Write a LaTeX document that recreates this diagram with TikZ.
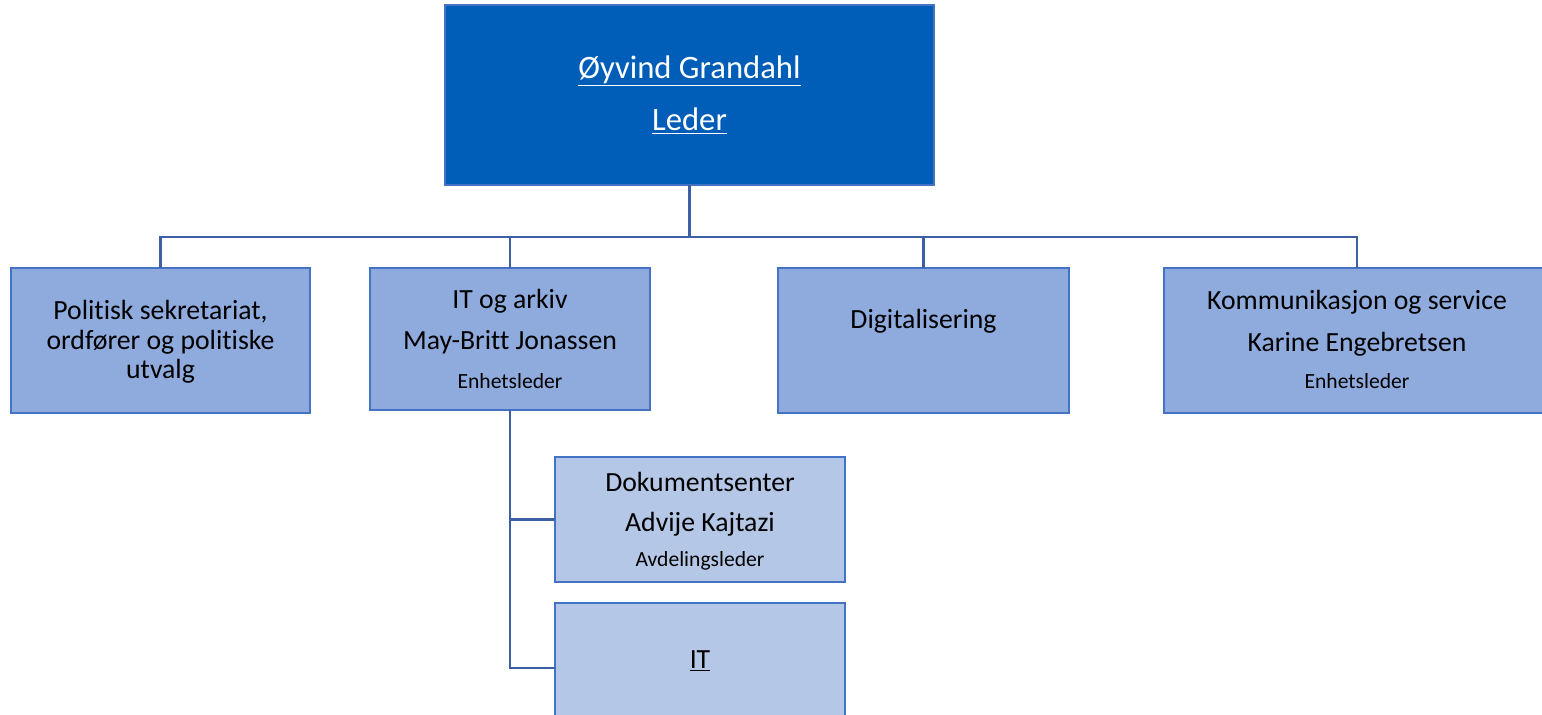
\documentclass[tikz,border=0pt]{standalone}
\usepackage{fontspec}
\setmainfont{Carlito}[Ligatures=NoCommon]
\definecolor{topfill}{HTML}{005EB8}
\definecolor{midfill}{HTML}{8FAADC}
\definecolor{subfill}{HTML}{B4C7E7}
\definecolor{boxline}{HTML}{4472C4}
\definecolor{conn}{HTML}{3C5FA6}
\tikzset{
  box/.style={draw=boxline, line width=2.2pt, inner sep=0pt, outer sep=0pt},
  link/.style={draw=conn, line width=1.8pt},
  huge/.style={font=\fontsize{24.5}{28}\selectfont, text=white, inner sep=0pt},
  big/.style={font=\fontsize{20.8}{24}\selectfont, text=black, inner sep=0pt},
  small/.style={font=\fontsize{16.2}{19}\selectfont, text=black, inner sep=0pt},
}
\begin{document}
\begin{tikzpicture}[x=0.75pt,y=-0.75pt]
\useasboundingbox (0,0) rectangle (1542,714);
\begin{scope}
\clip (0,0) rectangle (1542,714);
% boxes
\node[box, fill=topfill, minimum width=489*0.75pt, minimum height=180*0.75pt] (top) at (689.5,95) {};
\node[box, fill=midfill, minimum width=299*0.75pt, minimum height=145*0.75pt] (pol) at (160.5,340.5) {};
\node[box, fill=midfill, minimum width=280*0.75pt, minimum height=142*0.75pt] (ita) at (510,339) {};
\node[box, fill=midfill, minimum width=291*0.75pt, minimum height=145*0.75pt] (dig) at (923.5,340.5) {};
\node[box, fill=midfill, minimum width=386*0.75pt, minimum height=145*0.75pt] (kom) at (1357,340.5) {};
\node[box, fill=subfill, minimum width=290*0.75pt, minimum height=125*0.75pt] (dok) at (700,519.5) {};
\node[box, fill=subfill, minimum width=290*0.75pt, minimum height=130*0.75pt] (it) at (700,668) {};
% connectors
\coordinate (bus) at (689.5,237);
\draw[link] (top.south) -- (bus);
\draw[link] (pol.north) |- (bus) -| (kom.north);
\draw[link] (ita.north) -- (ita.north |- bus);
\draw[link] (dig.north) -- (dig.north |- bus);
\draw[link] (ita.south) |- (dok.west);
\draw[link] (ita.south) |- (it.west);
\end{scope}
% texts
\node[huge] (t1) at (689.5,71) {\underline{Øyvind Grandahl}};
\node[huge] (t2) at (689.5,121) {\underline{Leder}};
\node[big] (p1) at (160.5,312) {Politisk sekretariat,};
\node[big] (p2) at (160.5,342) {ordfører og politiske};
\node[big] (p3) at (160.5,371) {utvalg};
\node[big] (a1) at (510,301) {IT og arkiv};
\node[big] (a2) at (510,342) {May-Britt Jonassen};
\node[small] (a3) at (510,381) {Enhetsleder};
\node[big] (d1) at (923.5,321) {Digitalisering};
\node[big] (k1) at (1357,302) {Kommunikasjon og service};
\node[big] (k2) at (1357,344) {Karine Engebretsen};
\node[small] (k3) at (1357,381) {Enhetsleder};
\node[big] (s1) at (700,482) {Dokumentsenter};
\node[big] (s2) at (700,524) {Advije Kajtazi};
\node[small] (s3) at (700,561) {Avdelingsleder};
\node[big] (i1) at (700,661) {\underline{IT}};
\end{tikzpicture}
\end{document}
